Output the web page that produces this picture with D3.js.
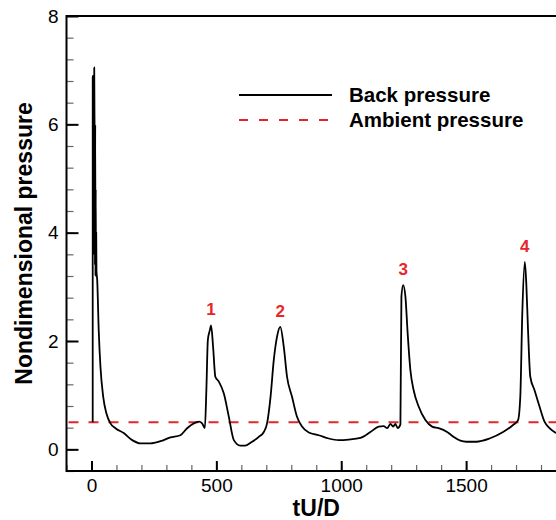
<!DOCTYPE html>
<html>
<head>
<meta charset="utf-8">
<script src="https://cdn.jsdelivr.net/npm/d3@7"></script>
<style>
  body { margin: 0; background: #fff; }
  text { font-family: "Liberation Sans", Arial, sans-serif; }
</style>
</head>
<body>
<div id="chart"></div>
<script>
// back pressure trace
let time = [4.9, 5, 7, 9, 11, 12, 13, 14, 15, 16, 17, 18, 19, 20, 23, 29, 36, 47, 60, 76, 96, 129, 163, 196, 236, 276, 316, 356, 383, 410, 430, 443, 454, 460, 466, 474, 479, 487, 496, 510, 530, 550, 570, 596, 616, 643, 670, 690, 703, 717, 730, 743, 756, 770, 783, 803, 823, 843, 870, 910, 950, 990, 1030, 1077, 1117, 1150, 1170, 1184, 1197, 1208, 1217, 1226, 1237, 1241, 1248, 1257, 1266, 1277, 1290, 1310, 1337, 1364, 1390, 1424, 1450, 1477, 1501, 1541, 1594, 1648, 1688, 1708, 1717, 1725, 1735, 1741, 1748, 1757, 1774, 1794, 1814, 1834, 1861, 1900];
let backPressure = [0.5, 6.87, 6.9, 3.6, 7.05, 6.2, 5.6, 3.4, 6.0, 3.2, 4.8, 3.2, 4.0, 3.3, 3.12, 2.2, 1.52, 0.97, 0.66, 0.48, 0.39, 0.30, 0.17, 0.11, 0.11, 0.15, 0.22, 0.26, 0.39, 0.48, 0.51, 0.48, 0.39, 1.09, 2.02, 2.2, 2.29, 1.89, 1.34, 1.25, 1.03, 0.6, 0.17, 0.07, 0.07, 0.14, 0.23, 0.32, 0.48, 0.97, 1.65, 2.08, 2.26, 1.89, 1.34, 0.97, 0.60, 0.42, 0.31, 0.26, 0.20, 0.17, 0.18, 0.21, 0.32, 0.42, 0.43, 0.39, 0.47, 0.42, 0.47, 0.39, 0.46, 2.82, 3.03, 2.82, 2.14, 1.46, 1.09, 0.79, 0.54, 0.42, 0.39, 0.32, 0.23, 0.16, 0.14, 0.14, 0.20, 0.32, 0.45, 0.54, 0.97, 2.51, 3.46, 3.06, 2.20, 1.34, 1.09, 0.79, 0.51, 0.39, 0.30, 0.22];
let ambientPressure = 0.5;

let peakLabels = ["1", "2", "3", "4"];
let peakTimes = [479, 756, 1248, 1735];
let peakValues = [2.29, 2.26, 3.03, 3.46];

let xTicks = [0, 500, 1000, 1500];
let yTicks = [0, 2, 4, 6, 8];
let legendNames = ["Back pressure", "Ambient pressure"];

const chart = () => {
    let width = 556;
    let height = 520;

    let xScale = d3.scaleLinear()
        .domain([-100, 1900])
        .range([66.5, 566]);

    let yScale = d3.scaleLinear()
        .domain([-0.4, 8])
        .range([471, 16]);

    let svg = d3.select("#chart")
        .append("svg")
        .attr("width", width)
        .attr("height", height);

    svg.append("defs").append("clipPath")
        .attr("id", "plot-clip")
        .append("rect")
        .attr("x", xScale(-100))
        .attr("y", yScale(8))
        .attr("width", xScale(1900) - xScale(-100))
        .attr("height", yScale(-0.4) - yScale(8));

    // minor ticks
    let xMinor = d3.axisBottom(xScale)
        .tickValues(d3.range(-100, 1901, 100))
        .tickSize(-6).tickSizeOuter(0).tickFormat("");
    svg.append("g")
        .attr("class", "x minor")
        .attr("transform", "translate(0," + yScale(-0.4) + ")")
        .call(xMinor);

    let yMinor = d3.axisLeft(yScale)
        .tickValues(d3.range(-0.4, 8.01, 0.4))
        .tickSize(-7).tickSizeOuter(0).tickFormat("");
    svg.append("g")
        .attr("class", "y minor")
        .attr("transform", "translate(" + xScale(-100) + ",0)")
        .call(yMinor);

    svg.selectAll(".minor line").attr("stroke", "#666").attr("stroke-width", 1.2);

    // major ticks
    let xAxis = d3.axisBottom(xScale)
        .tickValues(xTicks)
        .tickSize(-10).tickSizeOuter(0).tickPadding(7.5)
        .tickFormat(d3.format("d"));
    svg.append("g")
        .attr("class", "x axis")
        .attr("transform", "translate(0," + yScale(-0.4) + ")")
        .call(xAxis);

    let yAxis = d3.axisLeft(yScale)
        .tickValues(yTicks)
        .tickSize(-12).tickSizeOuter(0).tickPadding(8)
        .tickFormat(d3.format("d"));
    svg.append("g")
        .attr("class", "y axis")
        .attr("transform", "translate(" + xScale(-100) + ",0)")
        .call(yAxis);

    svg.selectAll(".axis line").attr("stroke", "#000").attr("stroke-width", 2);
    svg.selectAll(".axis text")
        .attr("font-size", "19px")
        .attr("font-family", "Liberation Sans, Arial, sans-serif")
        .attr("fill", "#000");
    svg.selectAll(".axis path, .minor path").remove();

    // frame
    svg.append("rect")
        .attr("x", xScale(-100))
        .attr("y", yScale(8))
        .attr("width", xScale(1900) - xScale(-100))
        .attr("height", yScale(-0.4) - yScale(8))
        .attr("fill", "none")
        .attr("stroke", "#000")
        .attr("stroke-width", 2);

    // ambient pressure
    svg.append("line")
        .attr("clip-path", "url(#plot-clip)")
        .attr("x1", xScale(-100))
        .attr("x2", xScale(1900))
        .attr("y1", yScale(ambientPressure))
        .attr("y2", yScale(ambientPressure))
        .attr("stroke", "#e0262b")
        .attr("stroke-width", 2)
        .attr("stroke-dasharray", "10,10")
        .attr("stroke-dashoffset", -2);

    // back pressure
    let dataset = time.map((t, i) => [t, backPressure[i]]);
    let line = d3.line()
        .x(function (d) { return xScale(d[0]); })
        .y(function (d) { return yScale(d[1]); })
        .curve(d3.curveMonotoneX);
    svg.append("path")
        .datum(dataset)
        .attr("clip-path", "url(#plot-clip)")
        .attr("d", line)
        .attr("fill", "none")
        .attr("stroke", "#000")
        .attr("stroke-width", 1.8)
        .attr("stroke-linejoin", "round");

    // peak numbers
    svg.selectAll(".peak")
        .data(peakLabels)
        .enter()
        .append("text")
        .attr("class", "peak")
        .attr("x", function (d, i) { return xScale(peakTimes[i]); })
        .attr("y", function (d, i) { return yScale(peakValues[i]) - 10; })
        .attr("text-anchor", "middle")
        .attr("font-size", "17px")
        .attr("font-weight", "bold")
        .attr("fill", "#e8262a")
        .text(function (d) { return d; });

    // legend
    let legend = svg.append("g");
    legend.append("line")
        .attr("x1", 239).attr("x2", 332)
        .attr("y1", 95).attr("y2", 95)
        .attr("stroke", "#000").attr("stroke-width", 2);
    legend.append("line")
        .attr("x1", 239).attr("x2", 332)
        .attr("y1", 120).attr("y2", 120)
        .attr("stroke", "#e0262b").attr("stroke-width", 2)
        .attr("stroke-dasharray", "9,11");
    legend.selectAll("text")
        .data(legendNames)
        .enter()
        .append("text")
        .attr("x", 349)
        .attr("y", function (d, i) { return 102 + i * 25; })
        .attr("font-size", "20.5px")
        .attr("font-weight", "bold")
        .text(function (d) { return d; });

    // X label
    svg.append("text")
        .attr("x", xScale(900))
        .attr("y", 516)
        .attr("font-size", "23px")
        .attr("font-weight", "bold")
        .attr("text-anchor", "middle")
        .text("tU/D");

    // Y label
    svg.append("text")
        .attr("transform", "translate(31.5," + yScale(3.8) + ") rotate(-90)")
        .attr("font-size", "23px")
        .attr("font-weight", "bold")
        .attr("text-anchor", "middle")
        .text("Nondimensional pressure");
};
chart();
</script>
</body>
</html>
